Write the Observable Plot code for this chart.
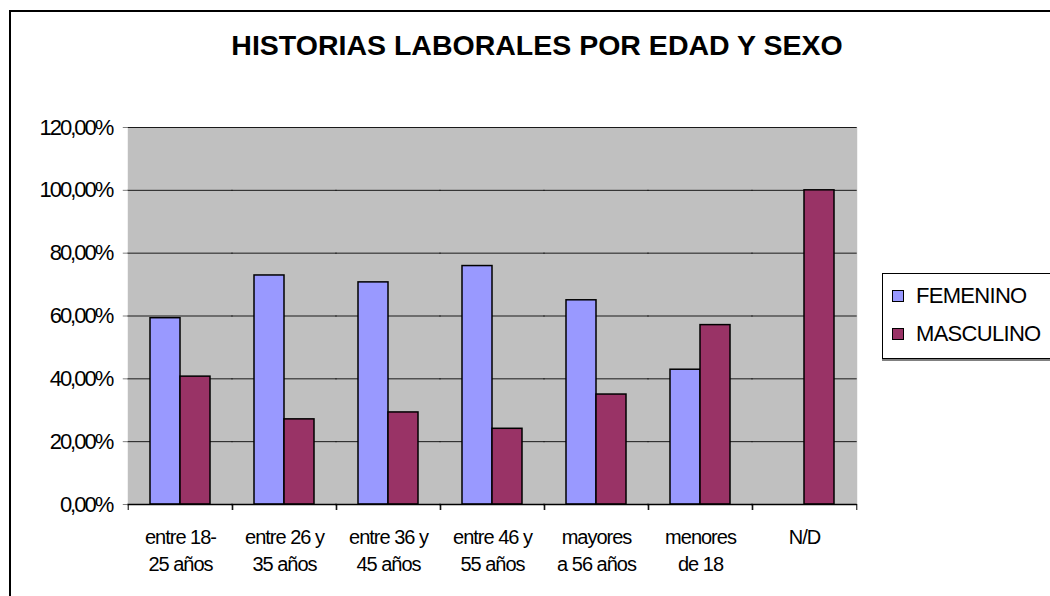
<!DOCTYPE html>
<html><head><meta charset="utf-8">
<script src="https://cdn.jsdelivr.net/npm/d3@7"></script>
<script src="https://cdn.jsdelivr.net/npm/@observablehq/plot@0.6"></script>
<style>
html,body{margin:0;padding:0;background:#fff;}
#wrap{position:relative;width:1050px;height:596px;overflow:hidden;background:#fff;}
#border{position:absolute;left:9px;top:10px;width:1100px;height:700px;border:2px solid #000;box-sizing:border-box;}
#title{position:absolute;top:31px;left:537px;transform:translateX(-50%);white-space:nowrap;font:bold 28.5px/28px "Liberation Sans",Arial,sans-serif;color:#000;}
#chart{position:absolute;left:0;top:0;}
#legend{position:absolute;left:882px;top:273px;width:220px;height:84px;border:1px solid #000;box-shadow:0 2px 0 #808080;background:#fff;font:22px/26px "Liberation Sans",Arial,sans-serif;letter-spacing:-0.7px;color:#000;}
.item{position:absolute;left:9px;display:flex;align-items:center;height:26px;white-space:nowrap;}
.sw{width:10px;height:10px;border:1px solid #000;margin-right:12px;}
</style></head>
<body>
<div id="wrap">
  <div id="border"></div>
  <div id="chart"></div>
  <div id="title"></div>
  <div id="legend"></div>
</div>
<script>
const titleText = "HISTORIAS LABORALES POR EDAD Y SEXO";
const categories = ["entre 18-\n25 años", "entre 26 y\n35 años", "entre 36 y\n45 años", "entre 46 y\n55 años", "mayores\na 56 años", "menores\nde 18", "N/D"];
const series = ["FEMENINO", "MASCULINO"];
const femenino = [59.3, 72.9, 70.7, 75.9, 65.0, 42.9, 0];
const masculino = [40.7, 27.1, 29.3, 24.1, 35.0, 57.1, 100];
const colors = ["#9999FF", "#993366"];
const yTicks = [0, 20, 40, 60, 80, 100, 120];

const data = categories.flatMap((c, i) => [
  {cat: c, sex: series[0], value: femenino[i]},
  {cat: c, sex: series[1], value: masculino[i]}
]);

const W = 1050, H = 596, mL = 126, mR = 192, mT = 127, mB = 92;
const padIn = 0.425;
const step = (W - mL - mR) / categories.length;
const half = step * padIn / 2;
const ext = -(half + 0.5);
const firstCat = categories[0], lastCat = categories[categories.length - 1];

document.getElementById("title").textContent = titleText;

const plot = Plot.plot({
  width: W, height: H,
  marginLeft: mL, marginRight: mR, marginTop: mT, marginBottom: mB,
  style: {fontFamily: '"Liberation Sans",Arial,sans-serif', background: "transparent", color: "#000", overflow: "visible"},
  fx: {domain: categories, paddingInner: padIn, paddingOuter: padIn / 2, axis: null, label: null},
  x: {domain: series, padding: 0, axis: null},
  y: {domain: [0, 120], axis: null},
  color: {domain: series, range: colors},
  marks: [
    Plot.frame({fill: "#c0c0c0", insetLeft: ext, insetRight: ext}),
    Plot.gridY(yTicks, {stroke: "#1a1a1a", strokeOpacity: 1, strokeWidth: 1, insetLeft: ext, insetRight: ext}),
    Plot.ruleX([firstCat], {fx: d => d, dx: -step / 2, stroke: "#808080", strokeWidth: 2}),
    Plot.ruleX([lastCat], {fx: d => d, dx: step / 2, stroke: "#808080", strokeWidth: 2}),
    Plot.barY(data.filter(d => d.value > 0), {fx: "cat", x: "sex", y: "value", fill: "sex", stroke: "#000", strokeWidth: 1.5}),
    Plot.ruleY([0], {stroke: "#000", strokeWidth: 1.5, insetLeft: ext, insetRight: ext}),
    Plot.axisY(yTicks, {anchor: "left", dx: -half, tickSize: 5, tickPadding: 11, fontSize: 22, tickFormat: d => d.toFixed(2).replace(".", ",") + "%", label: null, stroke: "#808080"}),
    Plot.axisFx({anchor: "bottom", tickSize: 0, tickPadding: 21, fontSize: 20, lineHeight: 1.33, label: null}),
    Plot.axisFx({anchor: "bottom", text: null, tickSize: 6, dx: -step / 2, label: null, stroke: "#000"}),
    Plot.axisFx([lastCat], {anchor: "bottom", text: null, tickSize: 6, dx: step / 2, label: null, stroke: "#000"})
  ]
});
d3.select(plot).selectAll("g[aria-label='y-axis tick label'] text").attr("letter-spacing", "-2px");
d3.select(plot).selectAll("g[aria-label='fx-axis tick label'] text").attr("letter-spacing", "-1px");
document.getElementById("chart").appendChild(plot);

const legend = document.getElementById("legend");
series.forEach((s, i) => {
  const item = document.createElement("div");
  item.className = "item";
  item.style.top = (9 + i * 38) + "px";
  const sw = document.createElement("div");
  sw.className = "sw";
  sw.style.background = colors[i];
  const t = document.createElement("span");
  t.textContent = s;
  item.appendChild(sw);
  item.appendChild(t);
  legend.appendChild(item);
});
</script>
</body></html>
